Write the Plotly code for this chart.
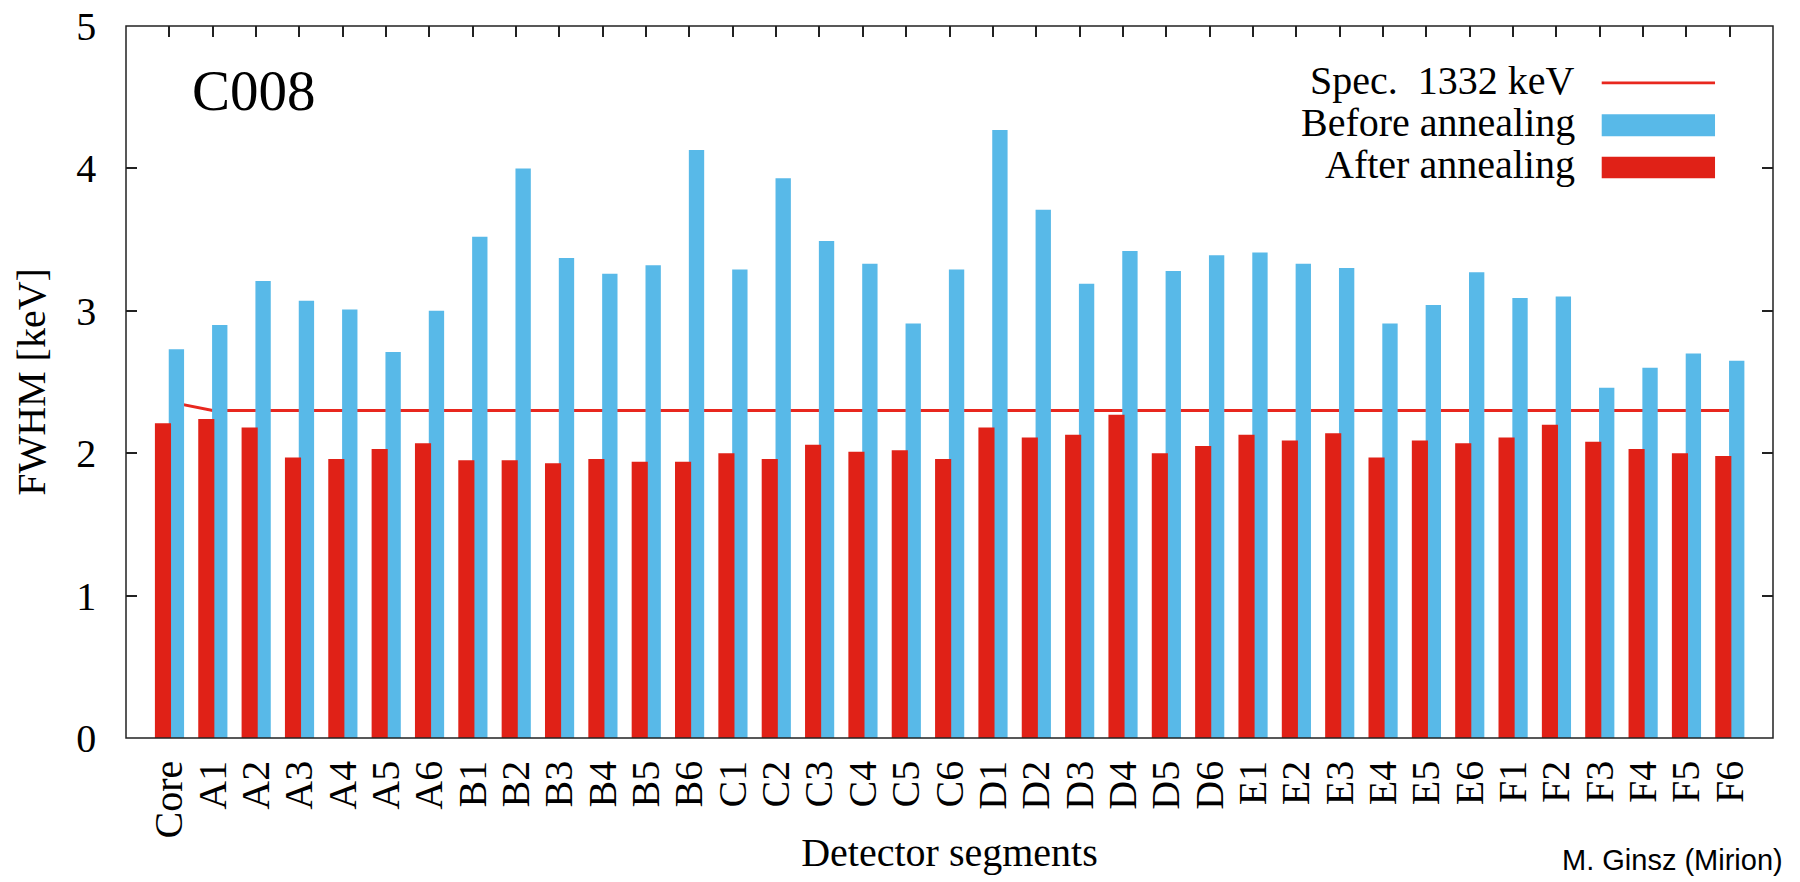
import plotly.graph_objects as go

# ---------------- data ----------------
segments = ["Core",
            "A1", "A2", "A3", "A4", "A5", "A6",
            "B1", "B2", "B3", "B4", "B5", "B6",
            "C1", "C2", "C3", "C4", "C5", "C6",
            "D1", "D2", "D3", "D4", "D5", "D6",
            "E1", "E2", "E3", "E4", "E5", "E6",
            "F1", "F2", "F3", "F4", "F5", "F6"]

before_annealing = [2.73,
                    2.90, 3.21, 3.07, 3.01, 2.71, 3.00,
                    3.52, 4.00, 3.37, 3.26, 3.32, 4.13,
                    3.29, 3.93, 3.49, 3.33, 2.91, 3.29,
                    4.27, 3.71, 3.19, 3.42, 3.28, 3.39,
                    3.41, 3.33, 3.30, 2.91, 3.04, 3.27,
                    3.09, 3.10, 2.46, 2.60, 2.70, 2.65]

after_annealing = [2.21,
                   2.24, 2.18, 1.97, 1.96, 2.03, 2.07,
                   1.95, 1.95, 1.93, 1.96, 1.94, 1.94,
                   2.00, 1.96, 2.06, 2.01, 2.02, 1.96,
                   2.18, 2.11, 2.13, 2.27, 2.00, 2.05,
                   2.13, 2.09, 2.14, 1.97, 2.09, 2.07,
                   2.11, 2.20, 2.08, 2.03, 2.00, 1.98]

spec_1332 = [2.36,
             2.30, 2.30, 2.30, 2.30, 2.30, 2.30,
             2.30, 2.30, 2.30, 2.30, 2.30, 2.30,
             2.30, 2.30, 2.30, 2.30, 2.30, 2.30,
             2.30, 2.30, 2.30, 2.30, 2.30, 2.30,
             2.30, 2.30, 2.30, 2.30, 2.30, 2.30,
             2.30, 2.30, 2.30, 2.30, 2.30, 2.30]

y_ticks = [0, 1, 2, 3, 4, 5]

legend_labels = ["Spec.  1332 keV", "Before annealing", "After annealing"]

# ---------------- style ----------------
BLUE = "#58b9e8"
RED = "#e02117"
LINE_RED = "#e8271e"
AXIS = "#222222"
SERIF = "Liberation Serif"
SANS = "Liberation Sans"

fig = go.Figure()

fig.add_trace(go.Scatter(
    x=segments, y=spec_1332, mode="lines", name=legend_labels[0],
    line=dict(color=LINE_RED, width=2.8), zorder=0, showlegend=False))

fig.add_trace(go.Bar(
    x=segments, y=before_annealing, name=legend_labels[1],
    offset=-0.014, width=0.354,
    marker=dict(color=BLUE, line=dict(width=0)), zorder=1, showlegend=False))

fig.add_trace(go.Bar(
    x=segments, y=after_annealing, name=legend_labels[2],
    offset=-0.333, width=0.372,
    marker=dict(color=RED, line=dict(width=0)), zorder=2, showlegend=False))

fig.update_layout(
    width=1800, height=882,
    margin=dict(l=126, r=27, t=26, b=144),
    paper_bgcolor="white", plot_bgcolor="white",
    barmode="overlay",
    showlegend=False,
    font=dict(family=SERIF, size=40, color="black"),
    xaxis=dict(
        type="category", range=[-1, 37],
        tickmode="array", tickvals=segments, ticktext=segments,
        showline=True, linecolor=AXIS, linewidth=1.5, mirror="ticks",
        ticks="inside", ticklen=11, tickwidth=1.5, tickcolor=AXIS,
        layer="below traces",
        showgrid=False, zeroline=False,
        tickangle=-90, tickfont=dict(family=SERIF, size=40, color="black"),
        ticklabelstandoff=5,
        title=dict(text="Detector segments",
                   font=dict(family=SERIF, size=40, color="black"),
                   standoff=0),
        automargin=False,
    ),
    yaxis=dict(
        range=[0, 5], tickvals=y_ticks,
        ticks="inside", ticklen=11, tickwidth=1.5, tickcolor=AXIS,
        showline=True, linecolor=AXIS, linewidth=1.5, mirror="ticks",
        showgrid=False, zeroline=False,
        tickfont=dict(family=SERIF, size=40, color="black"),
        ticklabelstandoff=20,
        title=dict(text="FWHM [keV]",
                   font=dict(family=SERIF, size=40, color="black"),
                   standoff=18),
        automargin=False,
    ),
)

# Plot frame (border around the plotting area)
fig.add_shape(type="rect", xref="paper", yref="paper",
              x0=0, x1=1, y0=0, y1=1, layer="above",
              line=dict(color=AXIS, width=1.5), fillcolor="rgba(0,0,0,0)")

# Detector name label
fig.add_annotation(x=0.078, y=0.909, xref="paper", yref="paper",
                   text="C008", showarrow=False, xanchor="center", yanchor="middle",
                   font=dict(family=SERIF, size=57, color="black"))

# Manual legend (text right-aligned, sample to the right, as in the original)
legend_text_y = [0.9234, 0.8645, 0.806]
for lbl, ty in zip(legend_labels, legend_text_y):
    fig.add_annotation(x=0.881, y=ty, xref="paper", yref="paper",
                       text=lbl, showarrow=False, xanchor="right", yanchor="middle",
                       font=dict(family=SERIF, size=40, color="black"))

fig.add_shape(type="line", xref="paper", yref="paper",
              x0=0.896, x1=0.9648, y0=0.920, y1=0.920,
              line=dict(color=LINE_RED, width=2.8))
fig.add_shape(type="rect", xref="paper", yref="paper",
              x0=0.896, x1=0.9648, y0=0.845, y1=0.876,
              fillcolor=BLUE, line=dict(width=0))
fig.add_shape(type="rect", xref="paper", yref="paper",
              x0=0.896, x1=0.9648, y0=0.786, y1=0.8164,
              fillcolor=RED, line=dict(width=0))

# Credit
fig.add_annotation(x=1.0073, y=-0.172, xref="paper", yref="paper",
                   text="M. Ginsz (Mirion)", showarrow=False,
                   xanchor="right", yanchor="middle",
                   font=dict(family=SANS, size=29, color="black"))

fig.write_html("out.html")
